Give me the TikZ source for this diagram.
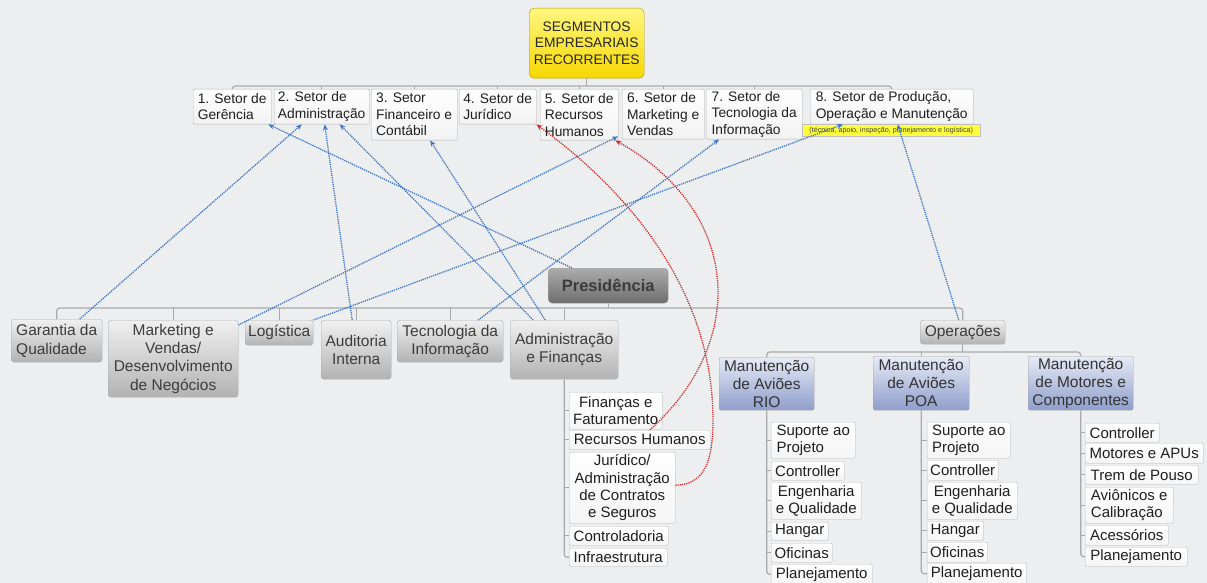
\documentclass[tikz,border=0pt]{standalone}
\usepackage{fontspec}
\setmainfont{Liberation Sans}
\usetikzlibrary{arrows.meta}

\definecolor{bgcol}{HTML}{ECEEF0}
\definecolor{linecol}{HTML}{A9A9A9}
\definecolor{linkblue}{HTML}{3A72C4}
\definecolor{linkred}{HTML}{D42A2A}
\definecolor{yellowtop}{HTML}{FFF680}
\definecolor{yellowbot}{HTML}{F6D800}
\definecolor{bluetop}{HTML}{E6EBF6}
\definecolor{bluebot}{HTML}{8E9DCB}
\definecolor{graytop}{HTML}{F0F0F0}
\definecolor{graybot}{HTML}{B2B2B2}
\definecolor{prestop}{HTML}{ABABAB}
\definecolor{presbot}{HTML}{6E6E6E}
\definecolor{textgray}{HTML}{3C3C3C}
\definecolor{notecol}{HTML}{FFFF3C}

\begin{document}
\begin{tikzpicture}[x=1pt,y=-1pt,
    box/.style={anchor=north west, inner xsep=1.5pt, inner ysep=1pt},
    topbox/.style={box, draw=yellowbot!70!black, top color=yellowtop, bottom color=yellowbot, rounded corners=5pt, align=center, text=black!85, font=\fontsize{13.8}{16.5}\selectfont},
    sector/.style={box, draw=gray!60, top color=white, bottom color=gray!10, rounded corners=1pt, align=left, text=black!88, font=\fontsize{13.8}{16.5}\selectfont},
    note/.style={box, draw=gray!50, fill=notecol, inner sep=0pt, align=center, text=black!75, font=\fontsize{7.2}{8}\selectfont},
    presbox/.style={box, draw=gray!70, top color=prestop, bottom color=presbot, rounded corners=4pt, text=textgray, font=\fontsize{16.5}{19}\selectfont\bfseries},
    graybox/.style={box, draw=gray!65, top color=graytop, bottom color=graybot, rounded corners=3pt, align=center, text=textgray, font=\fontsize{15.5}{18.3}\selectfont},
    bluebox/.style={box, draw=gray!70, top color=bluetop, bottom color=bluebot, rounded corners=2pt, align=center, text=black!80, font=\fontsize{15.5}{18}\selectfont},
    leaf/.style={box, draw=gray!55, top color=white, bottom color=gray!8, rounded corners=1pt, align=left, text=black!88, font=\fontsize{15}{17.3}\selectfont},
    tree/.style={draw=linecol, line width=1.2pt, rounded corners=3pt},
    link/.style={draw=linkblue, line width=1.3pt, dash pattern=on 1.2pt off 1pt, -{Stealth[length=6pt,width=5pt]}},
    redlink/.style={link, draw=linkred}]

    \fill[bgcol] (0,0) rectangle (1207,583);
    \useasboundingbox (0,0) rectangle (1207,583);

    % top level
    \node(seg) [topbox, minimum width=115pt, minimum height=70pt] at (529,8) {SEGMENTOS\\EMPRESARIAIS\\RECORRENTES};

    \node(s1) [sector, minimum width=78pt, minimum height=35pt] at (193,89) {1. Setor de\\Gerência};
    \node(s2) [sector, minimum width=95pt, minimum height=35pt] at (274,89) {2. Setor de\\Administração};
    \node(s3) [sector, minimum width=86pt, minimum height=51pt] at (371,89) {3. Setor\\Financeiro e\\Contábil};
    \node(s4) [sector, minimum width=77pt, minimum height=35pt] at (459,89) {4. Setor de\\Jurídico};
    \node(s5) [sector, minimum width=78pt, minimum height=51pt] at (540,89) {5. Setor de\\Recursos\\Humanos};
    \node(s6) [sector, minimum width=82pt, minimum height=50pt] at (622,89) {6. Setor de\\Marketing e\\Vendas};
    \node(s7) [sector, minimum width=96pt, minimum height=50pt] at (706,89) {7. Setor de\\Tecnologia da\\Informação};
    \node(s8) [sector, minimum width=163pt, minimum height=35pt] at (810,89) {8. Setor de Produção,\\Operação e Manutenção};
    \node(s8note) [note, minimum width=178pt, minimum height=12pt] at (802,124) {(técnica, apoio, inspeção, planejamento e logística)};

    \draw[tree] (seg.south) -- ++(0,8);
    \draw[tree] (s1.north) -- ++(0,-3) -| (s8.north);
    \foreach \n in {s2,s3,s4,s5,s6,s7}
        \draw[tree] (\n.north) -- ++(0,-3);

    % presidencia
    \node(pres) [presbox, minimum width=120pt, minimum height=35pt] at (548,268) {Presidência};

    \node(gq) [graybox, align=left, minimum width=91pt, minimum height=43pt] at (11,319) {Garantia da\\Qualidade};
    \node(mkt) [graybox, minimum width=130pt, minimum height=77pt] at (108,320) {Marketing e\\Vendas/\\Desenvolvimento\\de Negócios};
    \node(log) [graybox, minimum width=68pt, minimum height=25pt] at (245,320) {Logística};
    \node(aud) [graybox, minimum width=70pt, minimum height=59pt] at (321,320) {Auditoria\\Interna};
    \node(ti) [graybox, minimum width=106pt, minimum height=42pt] at (397,320) {Tecnologia da\\Informação};
    \node(adm) [graybox, minimum width=108pt, minimum height=59pt] at (510,320) {Administração\\e Finanças};
    \node(ops) [graybox, minimum width=85pt, minimum height=24pt] at (920,320) {Operações};

    \draw[tree] (pres.south) -- ++(0,5);
    \draw[tree] (gq.north) -- ++(0,-11) -| (ops.north);
    \foreach \n in {mkt,log,aud,ti,adm}
        \draw[tree] (\n.north) -- ++(0,-12);

    % operacoes
    \node(rio) [bluebox, minimum width=95pt, minimum height=53pt] at (719,357) {Manutenção\\de Aviões\\RIO};
    \node(poa) [bluebox, minimum width=96pt, minimum height=54pt] at (873,356) {Manutenção\\de Aviões\\POA};
    \node(mot) [bluebox, minimum width=105pt, minimum height=54pt] at (1028,356) {Manutenção\\de Motores e\\Componentes};

    \draw[tree] (ops.south) -- ++(0,8);
    \draw[tree] (rio.north) -- ++(0,-5) -| (mot.north);
    \draw[tree] (poa.north) -- ++(0,-4);

    % administracao e financas
    \node(af1) [leaf, align=center, minimum width=93pt, minimum height=37pt] at (569,392) {Finanças e\\Faturamento};
    \node(af2) [leaf, minimum width=141pt, minimum height=19pt] at (569,430) {Recursos Humanos};
    \node(af3) [leaf, align=center, minimum width=106pt, minimum height=71pt] at (569,452) {Jurídico/\\Administração\\de Contratos\\e Seguros};
    \node(af4) [leaf, minimum width=99pt, minimum height=19pt] at (569,526) {Controladoria};
    \node(af5) [leaf, minimum width=98pt, minimum height=18pt] at (569,548) {Infraestrutura};

    \draw[tree] (adm.south) |- (af5.west);
    \foreach \n in {af1,af2,af3,af4}
        \draw[tree] (\n.west) -- (\n.west -| adm.south);

    % manutencao rio
    \node(r1) [leaf, minimum width=84pt, minimum height=36pt] at (771,422) {Suporte ao\\Projeto};
    \node(r2) [leaf, minimum width=73pt, minimum height=19pt] at (771,461) {Controller};
    \node(r3) [leaf, align=center, minimum width=90pt, minimum height=37pt] at (771,482) {Engenharia\\e Qualidade};
    \node(r4) [leaf, minimum width=57pt, minimum height=18pt] at (771,522) {Hangar};
    \node(r5) [leaf, minimum width=61pt, minimum height=19pt] at (771,543) {Oficinas};
    \node(r6) [leaf, minimum width=101pt, minimum height=20pt] at (771,564) {Planejamento};

    \draw[tree] (rio.south) |- (r6.west);
    \foreach \n in {r1,r2,r3,r4,r5}
        \draw[tree] (\n.west) -- (\n.west -| rio.south);

    % manutencao poa
    \node(p1) [leaf, minimum width=83pt, minimum height=36pt] at (927,422) {Suporte ao\\Projeto};
    \node(p2) [leaf, minimum width=71pt, minimum height=20pt] at (927,460) {Controller};
    \node(p3) [leaf, align=center, minimum width=90pt, minimum height=37pt] at (927,482) {Engenharia\\e Qualidade};
    \node(p4) [leaf, minimum width=56pt, minimum height=19pt] at (927,521) {Hangar};
    \node(p5) [leaf, minimum width=60pt, minimum height=20pt] at (927,542) {Oficinas};
    \node(p6) [leaf, minimum width=99pt, minimum height=21pt] at (927,563) {Planejamento};

    \draw[tree] (poa.south) |- (p6.west);
    \foreach \n in {p1,p2,p3,p4,p5}
        \draw[tree] (\n.west) -- (\n.west -| poa.south);

    % motores e componentes
    \node(m1) [leaf, minimum width=74pt, minimum height=19pt] at (1085,423) {Controller};
    \node(m2) [leaf, minimum width=118pt, minimum height=20pt] at (1085,443) {Motores e APUs};
    \node(m3) [leaf, minimum width=113pt, minimum height=19pt] at (1085,465) {Trem de Pouso};
    \node(m4) [leaf, minimum width=88pt, minimum height=36pt] at (1085,487) {Aviônicos e\\Calibração};
    \node(m5) [leaf, minimum width=83pt, minimum height=20pt] at (1085,525) {Acessórios};
    \node(m6) [leaf, minimum width=102pt, minimum height=19pt] at (1085,547) {Planejamento};

    \draw[tree] (mot.south) |- (m6.west);
    \foreach \n in {m1,m2,m3,m4,m5}
        \draw[tree] (\n.west) -- (\n.west -| mot.south);

    % links to the sectors
    \draw[link] ([xshift=24pt]pres.north west) -- ([xshift=-3pt]s1.south east);
    \draw[link] ([xshift=23pt]gq.north) -- ([xshift=-20pt]s2.south);
    \draw[link] ([xshift=-4pt]aud.north) -- ([xshift=3pt]s2.south);
    \draw[link] ([xshift=-31pt]adm.north) -- ([xshift=18pt]s2.south);
    \draw[link] ([xshift=-19pt]adm.north) -- ([xshift=16pt]s3.south);
    \draw[link] ([yshift=-5pt]mkt.north east) -- ([xshift=-4pt,yshift=3pt]s6.south west);
    \draw[link] ([xshift=28pt]ti.north) -- ([xshift=13pt]s7.south west);
    \draw[link] (log.north east) -- ([xshift=33pt]s8.south west);
    \draw[link] ([xshift=-4pt]ops.north) -- ([xshift=6pt]s8.south);

    \draw[redlink] ([xshift=10pt]af2.north) .. controls (750,340) and (740,210) .. ([xshift=-3pt]s5.south east);
    \draw[redlink] ([yshift=2.5pt]af3.east) .. controls (705,485) and (713,460) .. (713,420) .. controls (713,300) and (640,200) .. (s4.south east);
\end{tikzpicture}
\end{document}
